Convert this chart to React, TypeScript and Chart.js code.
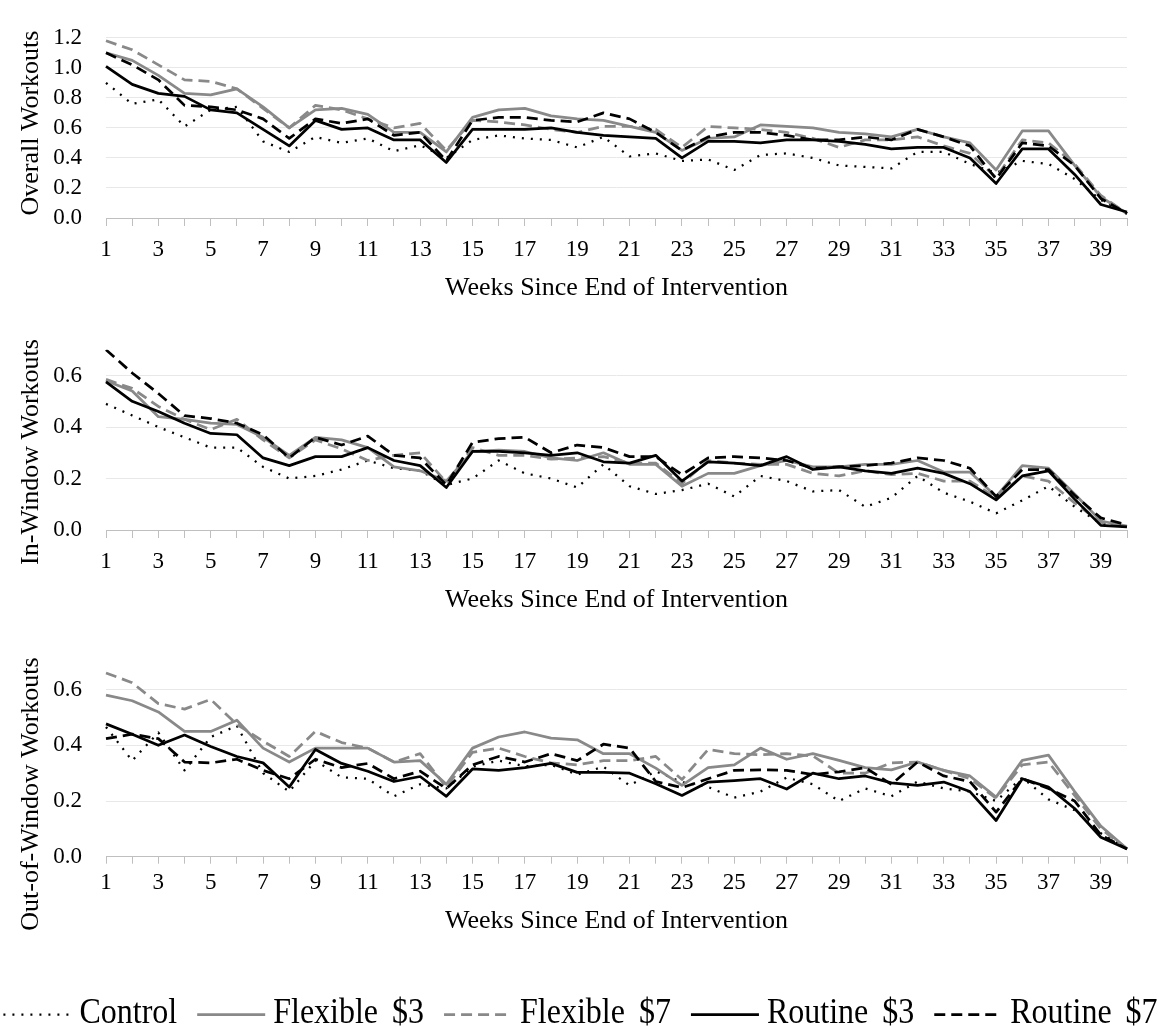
import React, { useEffect, useRef } from 'react';
import { Chart, registerables } from 'chart.js';

Chart.register(...registerables);

const FONT = '"Liberation Serif", "Times New Roman", serif';

const weeks = ['1','2','3','4','5','6','7','8','9','10','11','12','13','14','15','16','17','18','19','20',
  '21','22','23','24','25','26','27','28','29','30','31','32','33','34','35','36','37','38','39','40'];

const seriesNames = ['Control', 'Flexible $3', 'Flexible $7', 'Routine $3', 'Routine $7'];
const xTitle = 'Weeks Since End of Intervention';
const panelTitles = ['Overall Workouts', 'In-Window Workouts', 'Out-of-Window Workouts'];
const panelMax = [1.2, 0.7, 0.7];
const panelLastTick = [1.2, 0.6, 0.6];

// Overall workouts
const overallControl = [0.90, 0.76, 0.79, 0.61, 0.72, 0.74, 0.51, 0.44, 0.54, 0.50, 0.53, 0.445, 0.485,
  0.40, 0.52, 0.55, 0.53, 0.52, 0.47, 0.54, 0.41, 0.43, 0.38, 0.39, 0.32, 0.42, 0.43,
  0.40, 0.35, 0.34, 0.33, 0.44, 0.44, 0.36, 0.30, 0.38, 0.36, 0.26, 0.12, 0.03];
const overallFlex3 = [1.10, 1.05, 0.95, 0.83, 0.82, 0.86, 0.74, 0.60, 0.72, 0.73, 0.69, 0.57, 0.57,
  0.44, 0.67, 0.72, 0.73, 0.68, 0.66, 0.65, 0.61, 0.57, 0.45, 0.53, 0.54, 0.62, 0.61,
  0.60, 0.57, 0.56, 0.54, 0.59, 0.54, 0.50, 0.32, 0.58, 0.58, 0.35, 0.14, 0.03];
const overallFlex7 = [1.18, 1.12, 1.02, 0.92, 0.91, 0.86, 0.73, 0.60, 0.75, 0.72, 0.66, 0.60, 0.63,
  0.45, 0.65, 0.64, 0.62, 0.59, 0.57, 0.61, 0.61, 0.59, 0.47, 0.61, 0.60, 0.59, 0.57,
  0.53, 0.47, 0.52, 0.52, 0.54, 0.48, 0.43, 0.27, 0.52, 0.50, 0.36, 0.15, 0.03];
const overallRout3 = [1.01, 0.89, 0.83, 0.81, 0.72, 0.70, 0.59, 0.48, 0.65, 0.59, 0.60, 0.52, 0.52,
  0.37, 0.59, 0.59, 0.59, 0.60, 0.57, 0.55, 0.54, 0.53, 0.40, 0.51, 0.51, 0.50, 0.52,
  0.52, 0.51, 0.49, 0.46, 0.47, 0.47, 0.40, 0.23, 0.46, 0.46, 0.29, 0.09, 0.04];
const overallRout7 = [1.10, 1.02, 0.92, 0.75, 0.74, 0.72, 0.66, 0.53, 0.66, 0.63, 0.66, 0.55, 0.57,
  0.38, 0.65, 0.67, 0.67, 0.65, 0.64, 0.70, 0.66, 0.57, 0.45, 0.54, 0.57, 0.57, 0.55,
  0.52, 0.52, 0.54, 0.52, 0.59, 0.54, 0.48, 0.26, 0.50, 0.48, 0.35, 0.13, 0.03];

// In-window workouts
const inControl = [0.49, 0.445, 0.40, 0.36, 0.32, 0.32, 0.245, 0.20, 0.21, 0.235, 0.27, 0.24, 0.23,
  0.175, 0.20, 0.27, 0.22, 0.20, 0.165, 0.255, 0.17, 0.14, 0.155, 0.18, 0.13, 0.21, 0.19,
  0.15, 0.155, 0.09, 0.125, 0.21, 0.145, 0.11, 0.065, 0.115, 0.17, 0.09, 0.025, 0.01];
const inFlex3 = [0.58, 0.54, 0.44, 0.43, 0.415, 0.41, 0.36, 0.29, 0.36, 0.35, 0.32, 0.245, 0.23,
  0.19, 0.305, 0.31, 0.305, 0.28, 0.27, 0.30, 0.255, 0.255, 0.17, 0.22, 0.22, 0.25, 0.27,
  0.245, 0.245, 0.255, 0.255, 0.27, 0.225, 0.225, 0.13, 0.25, 0.24, 0.14, 0.035, 0.015];
const inFlex7 = [0.585, 0.55, 0.48, 0.43, 0.39, 0.43, 0.35, 0.28, 0.35, 0.315, 0.27, 0.29, 0.30,
  0.185, 0.32, 0.29, 0.29, 0.275, 0.28, 0.285, 0.26, 0.26, 0.18, 0.27, 0.26, 0.255, 0.255,
  0.22, 0.21, 0.23, 0.215, 0.22, 0.19, 0.19, 0.125, 0.21, 0.19, 0.105, 0.03, 0.015];
const inRout3 = [0.575, 0.50, 0.46, 0.415, 0.375, 0.37, 0.28, 0.25, 0.285, 0.285, 0.32, 0.27, 0.25,
  0.165, 0.305, 0.305, 0.30, 0.29, 0.30, 0.265, 0.26, 0.29, 0.19, 0.265, 0.26, 0.25, 0.285,
  0.235, 0.245, 0.23, 0.22, 0.24, 0.22, 0.18, 0.117, 0.21, 0.23, 0.12, 0.018, 0.012];
const inRout7 = [0.70, 0.61, 0.53, 0.444, 0.433, 0.415, 0.37, 0.28, 0.36, 0.33, 0.365, 0.29, 0.28,
  0.175, 0.34, 0.355, 0.36, 0.30, 0.33, 0.32, 0.285, 0.285, 0.215, 0.28, 0.285, 0.28, 0.27,
  0.24, 0.245, 0.25, 0.26, 0.28, 0.27, 0.24, 0.13, 0.235, 0.235, 0.135, 0.047, 0.02];

// Out-of-window workouts
const outControl = [0.466, 0.345, 0.446, 0.31, 0.43, 0.47, 0.30, 0.234, 0.345, 0.285, 0.28, 0.217, 0.26,
  0.245, 0.323, 0.345, 0.325, 0.33, 0.295, 0.323, 0.256, 0.307, 0.268, 0.25, 0.212, 0.234, 0.284,
  0.26, 0.20, 0.245, 0.217, 0.27, 0.245, 0.234, 0.20, 0.284, 0.206, 0.167, 0.084, 0.028];
const outFlex3 = [0.58, 0.56, 0.52, 0.45, 0.45, 0.49, 0.39, 0.34, 0.39, 0.39, 0.39, 0.34, 0.345,
  0.26, 0.39, 0.43, 0.448, 0.426, 0.42, 0.37, 0.37, 0.318, 0.256, 0.32, 0.33, 0.39, 0.35,
  0.37, 0.346, 0.32, 0.312, 0.34, 0.31, 0.29, 0.214, 0.346, 0.365, 0.234, 0.11, 0.028];
const outFlex7 = [0.66, 0.625, 0.55, 0.53, 0.565, 0.475, 0.415, 0.36, 0.45, 0.41, 0.39, 0.34, 0.37,
  0.25, 0.375, 0.39, 0.36, 0.337, 0.33, 0.345, 0.345, 0.36, 0.277, 0.385, 0.37, 0.366, 0.37,
  0.362, 0.30, 0.30, 0.337, 0.34, 0.31, 0.28, 0.21, 0.33, 0.34, 0.22, 0.10, 0.028];
const outRout3 = [0.477, 0.44, 0.40, 0.437, 0.396, 0.36, 0.337, 0.25, 0.385, 0.335, 0.307, 0.27, 0.288,
  0.217, 0.315, 0.31, 0.32, 0.335, 0.303, 0.303, 0.30, 0.262, 0.22, 0.268, 0.273, 0.28, 0.243,
  0.30, 0.28, 0.29, 0.265, 0.256, 0.268, 0.234, 0.13, 0.28, 0.25, 0.173, 0.07, 0.028];
const outRout7 = [0.424, 0.44, 0.424, 0.34, 0.337, 0.35, 0.31, 0.28, 0.35, 0.32, 0.335, 0.28, 0.307,
  0.245, 0.33, 0.36, 0.34, 0.37, 0.345, 0.404, 0.39, 0.27, 0.248, 0.28, 0.31, 0.312, 0.31,
  0.295, 0.305, 0.32, 0.26, 0.34, 0.29, 0.27, 0.16, 0.28, 0.245, 0.20, 0.078, 0.028];

const panelData = [
  [overallControl, overallFlex3, overallFlex7, overallRout3, overallRout7],
  [inControl, inFlex3, inFlex7, inRout3, inRout7],
  [outControl, outFlex3, outFlex7, outRout3, outRout7],
];

const GRAY = '#898989';
const seriesColors = ['#000000', GRAY, GRAY, '#000000', '#000000'];
const seriesWidths = [2.25, 2.75, 2.75, 2.75, 2.75];
const seriesDashes = [[2, 7], [], [11, 6], [], [11, 6]];

// layout of each panel (canvas coordinates)
const panels = [
  { top: 0, height: 312, padTop: 20, padBottom: 0, tickLen: 8, tickPad: 10, titlePadBottom: 8.4, yTitleY: 123, legend: false },
  { top: 312, height: 312, padTop: 18.5, padBottom: 0, tickLen: 8, tickPad: 10, titlePadBottom: 8.4, yTitleY: 140, legend: false },
  { top: 624, height: 403, padTop: 23.3, padBottom: 76.3, tickLen: 7, tickPad: 5.5, titlePadBottom: 14, yTitleY: 170, legend: true },
];

const yTitlePlugin = {
  id: 'yTitle',
  afterDraw(chart: any, _args: any, opts: any) {
    if (!opts || !opts.text) return;
    const ctx = chart.ctx;
    ctx.save();
    ctx.font = `26px ${FONT}`;
    ctx.fillStyle = '#000';
    ctx.textAlign = 'center';
    ctx.textBaseline = 'middle';
    ctx.translate(opts.x, opts.y);
    ctx.rotate(-Math.PI / 2);
    ctx.fillText(opts.text, 0, 0);
    ctx.restore();
  },
};

const legendPlugin = {
  id: 'bottomLegend',
  afterDraw(chart: any, _args: any, opts: any) {
    if (!opts || !opts.display) return;
    const ctx = chart.ctx;
    const ds = chart.data.datasets;
    ctx.save();
    ctx.font = `${opts.fontSize}px ${FONT}`;
    try { (ctx as any).wordSpacing = opts.wordSpacing + 'px'; } catch (e) { /* ignore */ }
    const widths = ds.map((d: any) => ctx.measureText(d.label).width);
    const total = widths.reduce((a: number, b: number) => a + b, 0)
      + ds.length * (opts.lineLen + opts.gap) + (ds.length - 1) * opts.itemGap;
    let x = (chart.width - total) / 2;
    const y = opts.y;
    ds.forEach((d: any, i: number) => {
      ctx.beginPath();
      ctx.setLineDash(d.borderDash || []);
      ctx.lineCap = 'butt';
      ctx.lineWidth = d.borderWidth;
      ctx.strokeStyle = d.borderColor;
      ctx.moveTo(x, y + 1.5);
      ctx.lineTo(x + opts.lineLen, y + 1.5);
      ctx.stroke();
      ctx.setLineDash([]);
      x += opts.lineLen + opts.gap;
      ctx.fillStyle = '#000';
      ctx.textAlign = 'left';
      ctx.textBaseline = 'middle';
      ctx.save();
      ctx.translate(x, y);
      ctx.scale(1, 1.15);
      ctx.fillText(d.label, 0, 0);
      ctx.restore();
      x += widths[i] + opts.itemGap;
    });
    ctx.restore();
  },
};

function makeConfig(idx: number): any {
  const p = panels[idx];
  const values = panelData[idx];
  const lastTick = panelLastTick[idx];
  return {
    type: 'line',
    data: {
      labels: weeks,
      datasets: seriesNames.map((name, i) => ({
        label: name,
        data: values[i],
        borderColor: seriesColors[i],
        backgroundColor: seriesColors[i],
        borderWidth: seriesWidths[i],
        borderDash: seriesDashes[i],
        borderCapStyle: 'butt',
        borderJoinStyle: 'round',
        pointRadius: 0,
        pointHoverRadius: 0,
        fill: false,
        tension: 0,
        order: seriesNames.length - i,
      })),
    },
    options: {
      responsive: false,
      animation: false,
      events: [],
      layout: { padding: { top: p.padTop, right: 34, bottom: p.padBottom, left: 0 } },
      plugins: {
        legend: { display: false },
        tooltip: { enabled: false },
        title: { display: false },
        yTitle: { text: panelTitles[idx], x: 31, y: p.yTitleY },
        bottomLegend: { display: p.legend, y: 389, fontSize: 32, wordSpacing: 6, lineLen: 68, gap: 8, itemGap: 20 },
      },
      scales: {
        x: {
          offset: false,
          ticks: {
            autoSkip: false,
            maxRotation: 0,
            minRotation: 0,
            padding: p.tickPad,
            color: '#000',
            font: { family: FONT, size: 23 },
            callback: (_v: any, i: number) => (i % 2 === 0 ? weeks[i] : ''),
          },
          grid: { drawOnChartArea: false, drawTicks: true, tickLength: p.tickLen, color: '#bfbfbf', lineWidth: 1 },
          border: { display: true, color: '#bfbfbf', width: 1 },
          title: {
            display: true,
            text: xTitle,
            color: '#000',
            font: { family: FONT, size: 26 },
            padding: { top: 0, bottom: p.titlePadBottom },
          },
          afterFit: (s: any) => { s.height = 94; },
        },
        y: {
          min: 0,
          max: panelMax[idx],
          ticks: {
            stepSize: 0.2,
            autoSkip: false,
            padding: 24,
            color: '#000',
            font: { family: FONT, size: 23 },
            callback: (v: any) => Number(v).toFixed(1),
          },
          grid: { color: '#e8e8e8', drawTicks: false, lineWidth: 1 },
          border: { display: false },
          afterBuildTicks: (s: any) => { s.ticks = s.ticks.filter((t: any) => t.value <= lastTick + 1e-9); },
          afterFit: (s: any) => { s.width = 106; },
        },
      },
    },
    plugins: [yTitlePlugin, legendPlugin],
  };
}

export default function App() {
  const ref0 = useRef<HTMLCanvasElement>(null);
  const ref1 = useRef<HTMLCanvasElement>(null);
  const ref2 = useRef<HTMLCanvasElement>(null);
  const refs = [ref0, ref1, ref2];

  useEffect(() => {
    const charts = refs.map((r, i) => new Chart(r.current as HTMLCanvasElement, makeConfig(i)));
    return () => charts.forEach((c) => c.destroy());
  }, []);

  return (
    <div style={{ position: 'absolute', left: 0, top: 0, width: 1161, height: 1027, background: '#fff', overflow: 'hidden' }}>
      {panels.map((p, i) => (
        <canvas
          key={i}
          ref={refs[i]}
          width={1161}
          height={p.height}
          style={{ position: 'absolute', left: 0, top: p.top, width: 1161, height: p.height, display: 'block' }}
        />
      ))}
    </div>
  );
}
